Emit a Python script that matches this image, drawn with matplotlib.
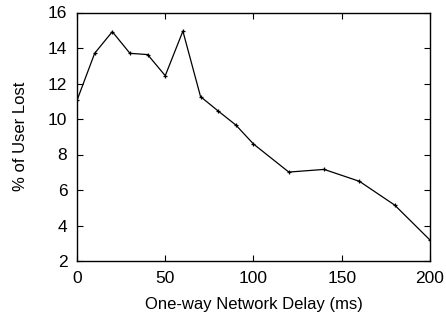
import matplotlib
matplotlib.use("Agg")
import matplotlib.pyplot as plt

plt.rcParams['font.family'] = ['Liberation Sans', 'DejaVu Sans']

delay_ms = [0, 10, 20, 30, 40, 50, 60, 70, 80, 90, 100, 120, 140, 160, 180, 200]
user_lost_pct = [11.05, 13.7, 14.92, 13.7, 13.63, 12.44, 14.95, 11.26, 10.45, 9.66, 8.59, 7.01, 7.16, 6.49, 5.15, 3.18]
xticks = [0, 50, 100, 150, 200]
yticks = [2, 4, 6, 8, 10, 12, 14, 16]

fig = plt.figure(figsize=(4.46, 3.21), dpi=100)
ax = fig.add_axes([77/446, 1 - 261/321, (430-77)/446, (261-12.5)/321])
ax.plot(delay_ms, user_lost_pct, color='black', linewidth=0.9, marker='+', markersize=3.5, markeredgewidth=0.9)
ax.set_xlim(0, 200)
ax.set_ylim(2, 16)
ax.set_xticks(xticks)
ax.set_yticks(yticks)
ax.tick_params(direction='in', top=True, right=True, length=4, width=0.8, labelsize=12.5, pad=7)
ax.tick_params(axis='y', pad=7)
ax.tick_params(axis='x', pad=7)
for s in ax.spines.values():
    s.set_linewidth(1.0)
ax.set_xlabel('One-way Network Delay (ms)', fontsize=12, labelpad=8)
ax.set_ylabel('% of User Lost', fontsize=12, labelpad=14)
fig.savefig('out.png', dpi=100)
